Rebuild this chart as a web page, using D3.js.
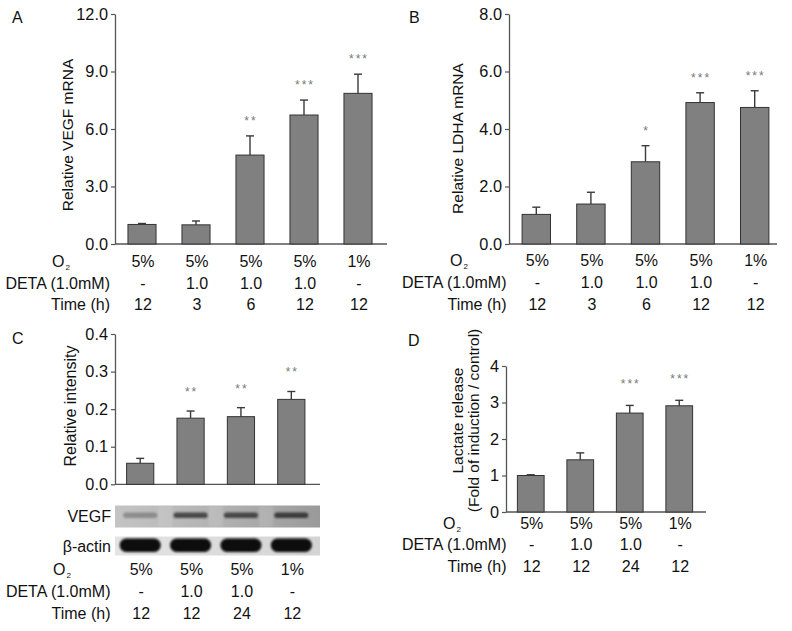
<!DOCTYPE html>
<html><head><meta charset="utf-8">
<script src="https://cdn.jsdelivr.net/npm/d3@7"></script>
<style>
body{margin:0;background:#fff}
svg{display:block;font-family:"Liberation Sans",Arial,Helvetica,sans-serif}
</style>
</head><body>
<svg id="c" width="792" height="631"></svg>
<script>
// ---------- data ----------
const rowNamesDeta = "DETA (1.0mM)";
const rowNamesTime = "Time (h)";
const o2AB = ["5%","5%","5%","5%","1%"];
const detaAB = ["-","1.0","1.0","1.0","-"];
const timeAB = ["12","3","6","12","12"];

const vegfMrna = [1.02, 1.0, 4.64, 6.73, 7.86];
const vegfMrnaErr = [0.05, 0.2, 1.0, 0.78, 1.0];
const vegfMrnaSig = ["", "", "**", "***", "***"];
const vegfTicks = [0, 3, 6, 9, 12];

const ldhaMrna = [1.03, 1.39, 2.86, 4.92, 4.75];
const ldhaErr = [0.25, 0.41, 0.56, 0.34, 0.58];
const ldhaSig = ["", "", "*", "***", "***"];
const ldhaTicks = [0, 2, 4, 6, 8];

const o2CD = ["5%","5%","5%","1%"];
const detaCD = ["-","1.0","1.0","-"];
const timeCD = ["12","12","24","12"];

const intensity = [0.056, 0.176, 0.180, 0.226];
const intensityErr = [0.013, 0.019, 0.024, 0.021];
const intensitySig = ["", "**", "**", "**"];
const intensityTicks = [0, 0.1, 0.2, 0.3, 0.4];
const vegfBand = [0.35, 0.8, 0.8, 0.88];
const actinBand = [1, 1, 1, 1];

const lactate = [1.0, 1.43, 2.71, 2.91];
const lactateErr = [0.02, 0.19, 0.21, 0.15];
const lactateSig = ["", "", "***", "***"];
const lactateTicks = [0, 1, 2, 3, 4];

// ---------- drawing ----------
const svg = d3.select("#c");
const defs = svg.append("defs");
defs.append("filter").attr("id","blur1").attr("x","-20%").attr("y","-100%").attr("width","140%").attr("height","300%")
  .append("feGaussianBlur").attr("stdDeviation",1.1);
defs.append("filter").attr("id","blur2").attr("x","-20%").attr("y","-100%").attr("width","140%").attr("height","300%")
  .append("feGaussianBlur").attr("stdDeviation",0.8);
const gv = defs.append("linearGradient").attr("id","vegfBg").attr("x1",0).attr("x2",1).attr("y1",0).attr("y2",0);
gv.append("stop").attr("offset",0).attr("stop-color","#c4c4c4");
gv.append("stop").attr("offset",0.5).attr("stop-color","#b2b2b2");
gv.append("stop").attr("offset",1).attr("stop-color","#9a9a9a");
const ga = defs.append("linearGradient").attr("id","actBg").attr("x1",0).attr("x2",1).attr("y1",0).attr("y2",0);
ga.append("stop").attr("offset",0).attr("stop-color","#e4e4e4");
ga.append("stop").attr("offset",1).attr("stop-color","#d4d4d4");

function panel(p) {
  const g = svg.append("g");
  const n = p.values.length;
  const x = d3.scaleBand().domain(d3.range(n)).range([p.x0, p.x1])
    .paddingInner(p.pad).paddingOuter(p.pad / 2);
  const y = d3.scaleLinear().domain(p.domain).range([p.y0, p.y1]);

  // y axis
  const ax = g.append("g").attr("transform", `translate(${p.x0},0)`)
    .call(d3.axisLeft(y).tickValues(p.ticks).tickFormat(d3.format(p.fmt))
      .tickSize(4).tickSizeOuter(0).tickPadding(3));
  ax.attr("font-family", null).attr("font-size", 16.3);
  ax.select(".domain").attr("stroke", "#555").attr("stroke-width", 1.3);
  ax.selectAll(".tick line").attr("stroke", "#555").attr("stroke-width", 1.2);
  ax.selectAll(".tick text").attr("fill", "#111");

  // x axis line
  g.append("line").attr("x1", p.x0).attr("x2", p.xEnd)
    .attr("y1", y(0)).attr("y2", y(0)).attr("stroke", "#555").attr("stroke-width", 1.3);

  // error bars
  const eb = g.append("g").attr("stroke", "#3a3a3a").attr("stroke-width", 1.4);
  p.values.forEach((v, i) => {
    const cx = x(i) + x.bandwidth() / 2;
    eb.append("line").attr("x1", cx).attr("x2", cx).attr("y1", y(v)).attr("y2", y(v + p.errs[i]));
    eb.append("line").attr("x1", cx - 4).attr("x2", cx + 4).attr("y1", y(v + p.errs[i])).attr("y2", y(v + p.errs[i]));
  });

  // bars
  g.selectAll("rect.bar").data(p.values).join("rect").attr("class", "bar")
    .attr("x", (d, i) => x(i)).attr("width", x.bandwidth())
    .attr("y", d => y(d)).attr("height", d => y(0) - y(d))
    .attr("fill", "#808080").attr("stroke", "#333").attr("stroke-width", 1);

  // significance stars
  g.selectAll("text.sig").data(p.sig).join("text").attr("class", "sig")
    .attr("x", (d, i) => x(i) + x.bandwidth() / 2 + 1)
    .attr("y", (d, i) => y(p.values[i] + p.errs[i]) - p.starGap + 7)
    .attr("text-anchor", "middle").attr("font-size", 12).attr("letter-spacing", 2)
    .attr("fill", "#777").text(d => d);

  // y label
  p.yLabel.forEach((t, k) => {
    g.append("text").attr("transform", `translate(${p.yLabelX[k]},${p.yLabelY}) rotate(-90)`)
      .attr("text-anchor", "middle").attr("font-size", p.yLabelSize).attr("fill", "#111").text(t);
  });

  // panel letter
  g.append("text").attr("x", p.letterX).attr("y", p.letterY).attr("font-size", 16)
    .attr("fill", "#111").text(p.letter);

  // condition rows
  const rows = [p.o2, p.deta, p.time];
  rows.forEach((arr, r) => {
    g.selectAll(null).data(arr).join("text")
      .attr("x", (d, i) => x(i) + x.bandwidth() / 2 + 1).attr("y", p.rowY[r])
      .attr("text-anchor", "middle").attr("font-size", 16).attr("fill", "#111").text(d => d);
  });
  const o2t = g.append("text").attr("x", p.o2x).attr("y", p.rowY[0]).attr("font-size", 16).attr("fill", "#111");
  o2t.append("tspan").text("O");
  o2t.append("tspan").attr("font-size", 8).attr("dy", 3).attr("dx", 1).text("2");
  g.append("text").attr("x", p.labelX).attr("y", p.rowY[1]).attr("text-anchor", "end")
    .attr("font-size", 16).attr("fill", "#111").text(rowNamesDeta);
  g.append("text").attr("x", p.labelX).attr("y", p.rowY[2]).attr("text-anchor", "end")
    .attr("font-size", 16).attr("fill", "#111").text(rowNamesTime);

  return { g, x, y };
}

panel({
  values: vegfMrna, errs: vegfMrnaErr, sig: vegfMrnaSig, ticks: vegfTicks, fmt: ".1f",
  x0: 115, x1: 385, xEnd: 387, pad: 0.48, y0: 244, y1: 14, domain: [0, 12],
  yLabel: ["Relative VEGF mRNA"], yLabelX: [73], yLabelY: 135, yLabelSize: 15.5,
  letter: "A", letterX: 12, letterY: 23, starGap: 18,
  o2: o2AB, deta: detaAB, time: timeAB, rowY: [266.5, 288.5, 309.5], labelX: 110, o2x: 52
});

panel({
  values: ldhaMrna, errs: ldhaErr, sig: ldhaSig, ticks: ldhaTicks, fmt: ".1f",
  x0: 509, x1: 782, xEnd: 777, pad: 0.48, y0: 244, y1: 14, domain: [0, 8],
  yLabel: ["Relative LDHA mRNA"], yLabelX: [463], yLabelY: 138.5, yLabelSize: 15.5,
  letter: "B", letterX: 409, letterY: 23, starGap: 18,
  o2: o2AB, deta: detaAB, time: timeAB, rowY: [266, 288, 309.5], labelX: 506.5, o2x: 450
});

const pc = panel({
  values: intensity, errs: intensityErr, sig: intensitySig, ticks: intensityTicks, fmt: ".1f",
  x0: 115, x1: 316.5, xEnd: 320, pad: 0.46, y0: 484.3, y1: 334, domain: [0, 0.4],
  yLabel: ["Relative intensity"], yLabelX: [76], yLabelY: 406, yLabelSize: 16,
  letter: "C", letterX: 12, letterY: 344, starGap: 22,
  o2: o2CD, deta: detaCD, time: timeCD, rowY: [575, 597, 618.5], labelX: 110.5, o2x: 53
});

panel({
  values: lactate, errs: lactateErr, sig: lactateSig, ticks: lactateTicks, fmt: "d",
  x0: 506, x1: 704, xEnd: 706, pad: 0.46, y0: 512, y1: 366, domain: [0, 4],
  yLabel: ["Lactate release", "(Fold of induction / control)"], yLabelX: [463, 478.5], yLabelY: 420.5, yLabelSize: 15.5,
  letter: "D", letterX: 408, letterY: 346, starGap: 24,
  o2: o2CD, deta: detaCD, time: timeCD, rowY: [528.5, 550, 572], labelX: 506.5, o2x: 443
});

// ---------- western blot (panel C) ----------
(function blot() {
  const g = pc.g, x = pc.x;
  const bx0 = 115, bx1 = 320;
  // VEGF strip
  g.append("rect").attr("x", bx0).attr("y", 505.5).attr("width", bx1 - bx0).attr("height", 22)
    .attr("fill", "url(#vegfBg)");
  // lighter gaps between lanes
  for (let i = 0; i < vegfBand.length - 1; i++) {
    const gx = (x(i) + x.bandwidth() / 2 + x(i + 1) + x.bandwidth() / 2) / 2;
    g.append("rect").attr("x", gx - 7).attr("y", 506).attr("width", 14).attr("height", 21)
      .attr("fill", "#ffffff").attr("opacity", 0.12).attr("filter", "url(#blur1)");
  }
  g.selectAll(null).data(vegfBand).join("rect")
    .attr("x", (d, i) => x(i) + x.bandwidth() / 2 - 17).attr("width", 34)
    .attr("y", 512.5).attr("height", 5.5).attr("rx", 2.5)
    .attr("fill", "#2e2e2e").attr("opacity", d => d).attr("filter", "url(#blur1)");
  g.append("text").attr("x", 111).attr("y", 521.5).attr("text-anchor", "end")
    .attr("font-size", 16).attr("fill", "#111").text("VEGF");

  // beta-actin strip
  g.append("rect").attr("x", bx0).attr("y", 536.5).attr("width", bx1 - bx0).attr("height", 19)
    .attr("fill", "url(#actBg)");
  g.selectAll(null).data(actinBand).join("rect")
    .attr("x", (d, i) => x(i) + x.bandwidth() / 2 - 20.5).attr("width", 41)
    .attr("y", 538.5).attr("height", 13.5).attr("rx", 6.5)
    .attr("fill", "#080808").attr("opacity", d => d).attr("filter", "url(#blur2)");
  g.append("text").attr("x", 111).attr("y", 551.5).attr("text-anchor", "end")
    .attr("font-size", 16).attr("fill", "#111").text("β-actin");
})();
</script>
</body></html>
